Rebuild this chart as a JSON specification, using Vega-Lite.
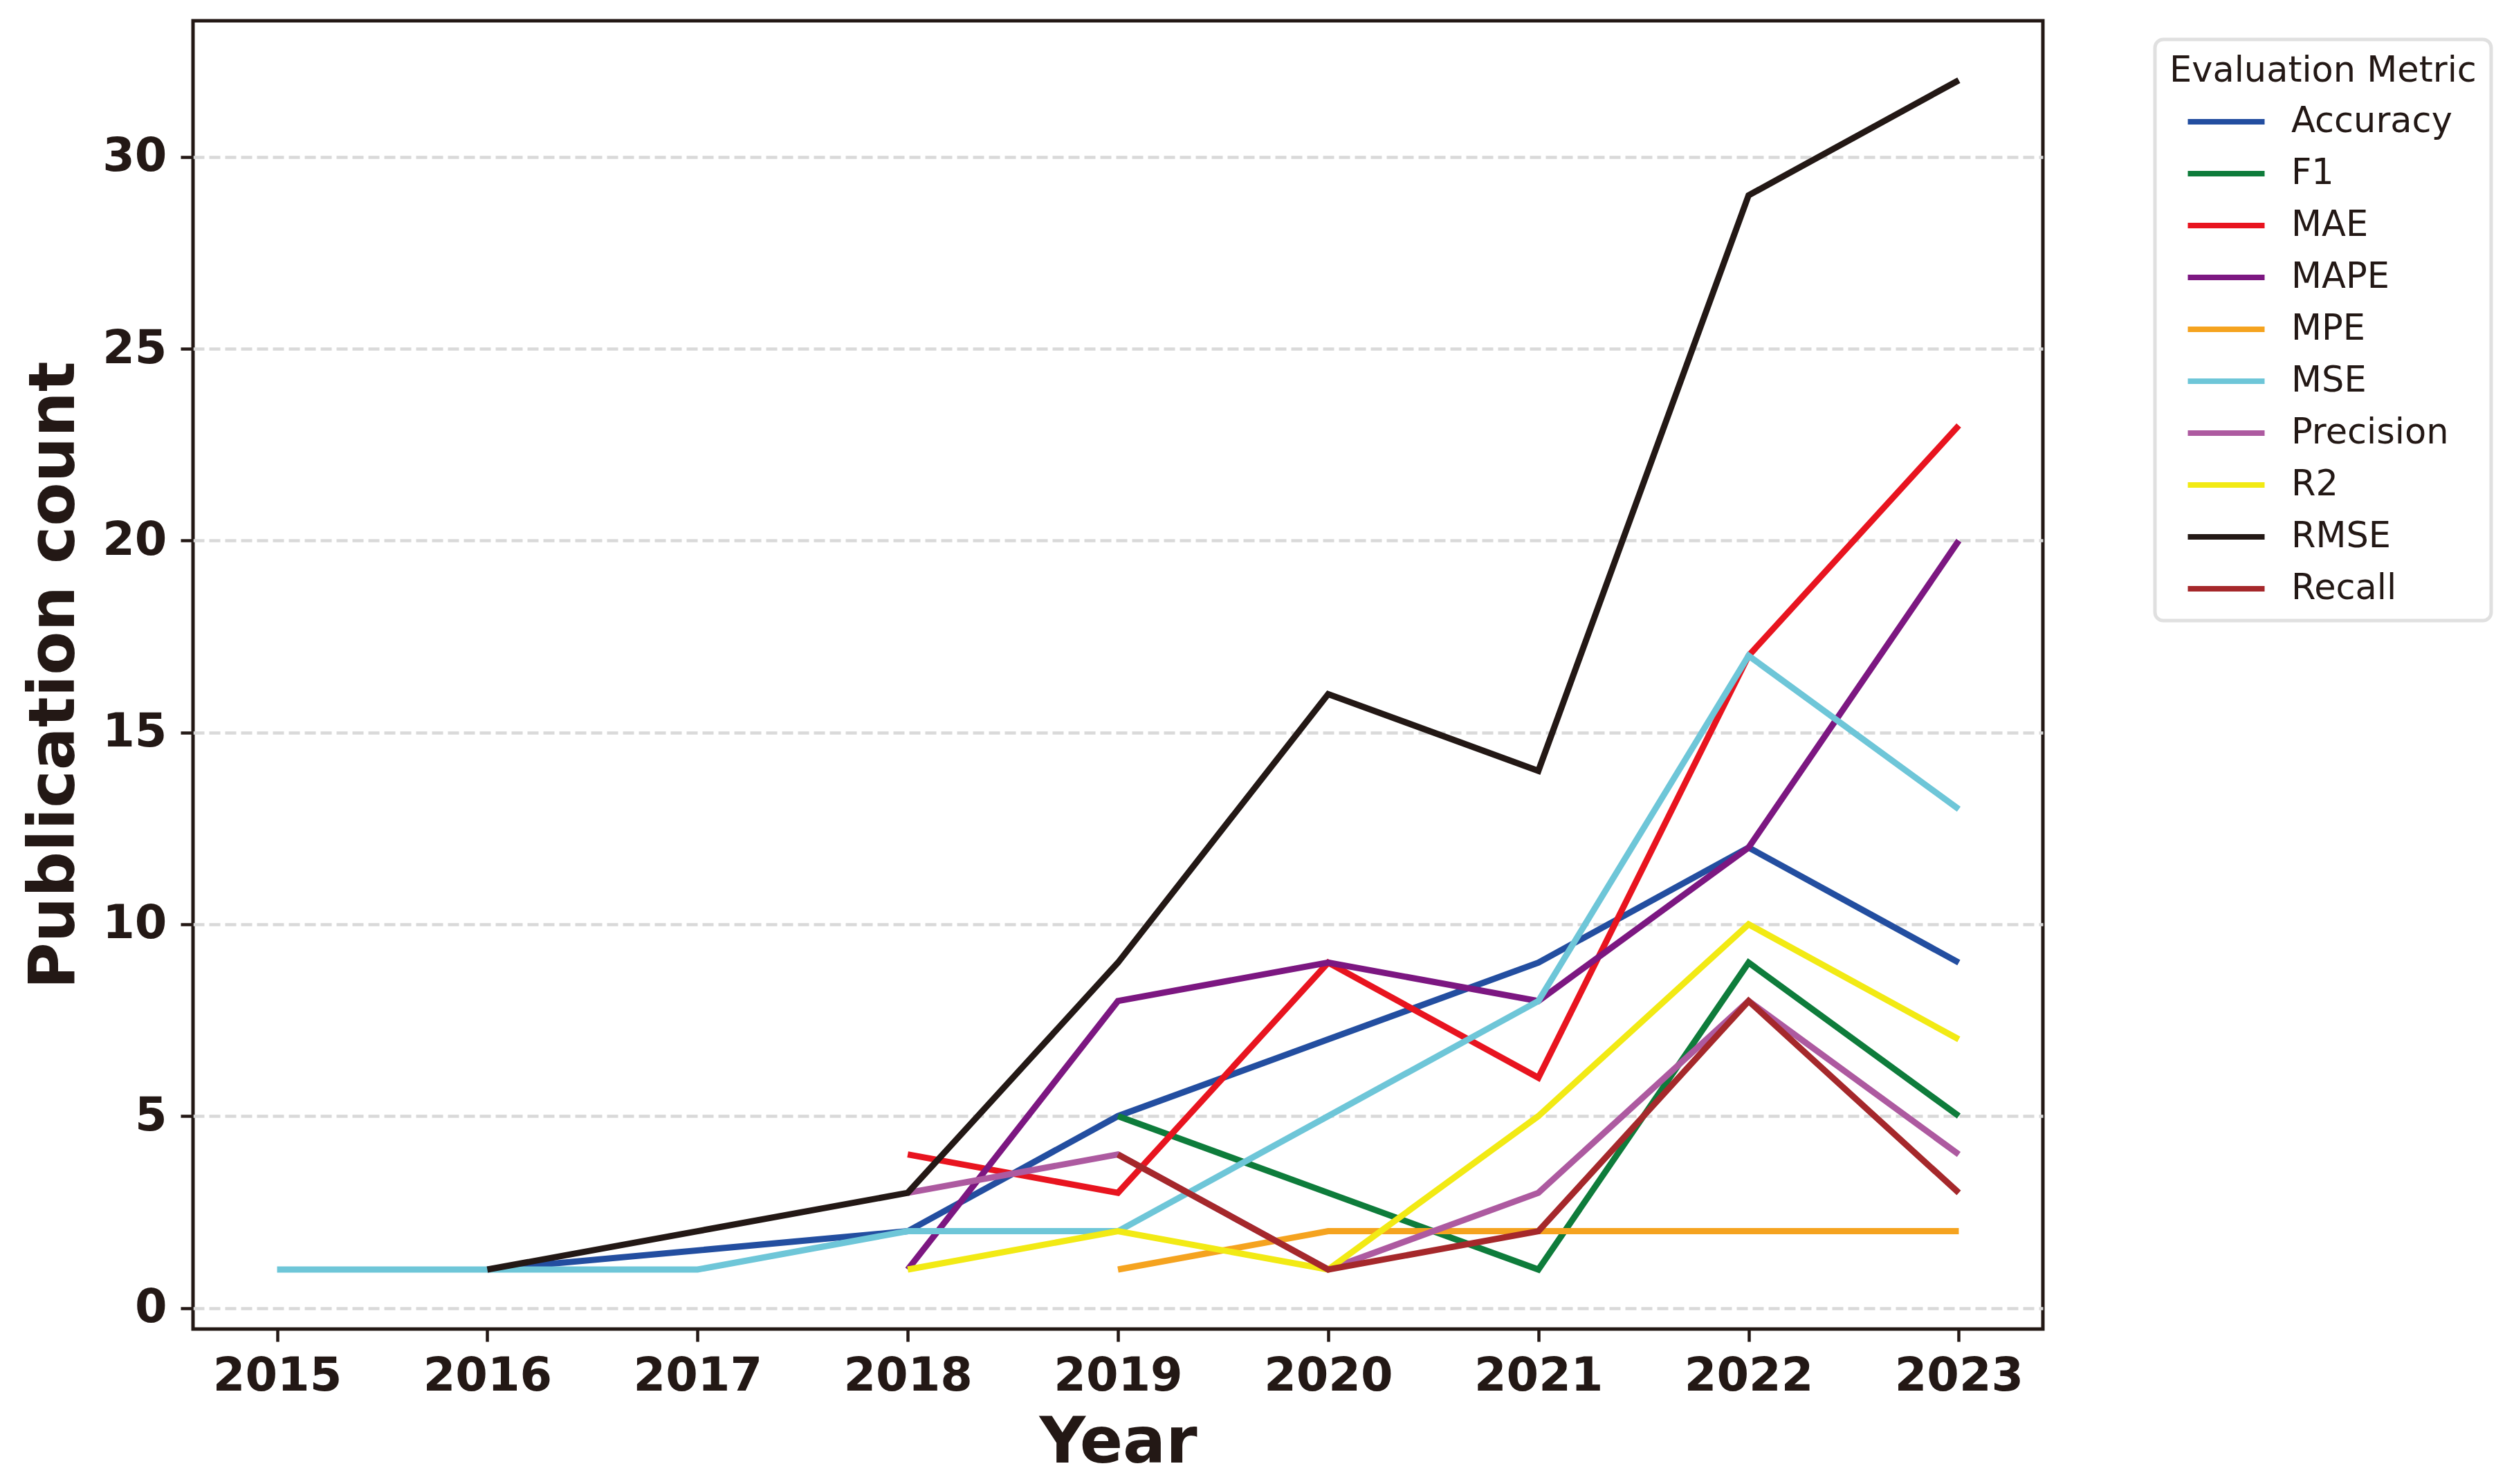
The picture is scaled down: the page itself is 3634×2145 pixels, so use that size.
{
  "$schema": "https://vega.github.io/schema/vega-lite/v6.json",
  "width": 2674,
  "height": 1891,
  "autosize": {"type": "none"},
  "padding": {"left": 279, "top": 30, "right": 681, "bottom": 224},
  "background": "white",
  "config": {
    "font": "DejaVu Sans",
    "view": {"stroke": "#231815", "strokeWidth": 5},
    "axis": {
      "domain": false,
      "labelColor": "#231815",
      "titleColor": "#231815",
      "tickColor": "#231815",
      "labelFont": "DejaVu Sans",
      "titleFont": "DejaVu Sans",
      "labelLimit": 0,
      "titleLimit": 0
    },
    "legend": {
      "strokeColor": "#e0e0e0",
      "strokeWidth": 5,
      "cornerRadius": 12,
      "fillColor": "white",
      "padding": 21,
      "labelLimit": 0,
      "titleLimit": 0
    }
  },
  "data": {
    "values": [
      {"metric": "Accuracy", "year": 2016, "count": 1},
      {"metric": "Accuracy", "year": 2018, "count": 2},
      {"metric": "Accuracy", "year": 2019, "count": 5},
      {"metric": "Accuracy", "year": 2020, "count": 7},
      {"metric": "Accuracy", "year": 2021, "count": 9},
      {"metric": "Accuracy", "year": 2022, "count": 12},
      {"metric": "Accuracy", "year": 2023, "count": 9},
      {"metric": "F1", "year": 2019, "count": 5},
      {"metric": "F1", "year": 2020, "count": 3},
      {"metric": "F1", "year": 2021, "count": 1},
      {"metric": "F1", "year": 2022, "count": 9},
      {"metric": "F1", "year": 2023, "count": 5},
      {"metric": "MAE", "year": 2018, "count": 4},
      {"metric": "MAE", "year": 2019, "count": 3},
      {"metric": "MAE", "year": 2020, "count": 9},
      {"metric": "MAE", "year": 2021, "count": 6},
      {"metric": "MAE", "year": 2022, "count": 17},
      {"metric": "MAE", "year": 2023, "count": 23},
      {"metric": "MAPE", "year": 2018, "count": 1},
      {"metric": "MAPE", "year": 2019, "count": 8},
      {"metric": "MAPE", "year": 2020, "count": 9},
      {"metric": "MAPE", "year": 2021, "count": 8},
      {"metric": "MAPE", "year": 2022, "count": 12},
      {"metric": "MAPE", "year": 2023, "count": 20},
      {"metric": "MPE", "year": 2019, "count": 1},
      {"metric": "MPE", "year": 2020, "count": 2},
      {"metric": "MPE", "year": 2021, "count": 2},
      {"metric": "MPE", "year": 2022, "count": 2},
      {"metric": "MPE", "year": 2023, "count": 2},
      {"metric": "MSE", "year": 2015, "count": 1},
      {"metric": "MSE", "year": 2016, "count": 1},
      {"metric": "MSE", "year": 2017, "count": 1},
      {"metric": "MSE", "year": 2018, "count": 2},
      {"metric": "MSE", "year": 2019, "count": 2},
      {"metric": "MSE", "year": 2020, "count": 5},
      {"metric": "MSE", "year": 2021, "count": 8},
      {"metric": "MSE", "year": 2022, "count": 17},
      {"metric": "MSE", "year": 2023, "count": 13},
      {"metric": "Precision", "year": 2018, "count": 3},
      {"metric": "Precision", "year": 2019, "count": 4},
      {"metric": "Precision", "year": 2020, "count": 1},
      {"metric": "Precision", "year": 2021, "count": 3},
      {"metric": "Precision", "year": 2022, "count": 8},
      {"metric": "Precision", "year": 2023, "count": 4},
      {"metric": "R2", "year": 2018, "count": 1},
      {"metric": "R2", "year": 2019, "count": 2},
      {"metric": "R2", "year": 2020, "count": 1},
      {"metric": "R2", "year": 2021, "count": 5},
      {"metric": "R2", "year": 2022, "count": 10},
      {"metric": "R2", "year": 2023, "count": 7},
      {"metric": "RMSE", "year": 2016, "count": 1},
      {"metric": "RMSE", "year": 2017, "count": 2},
      {"metric": "RMSE", "year": 2018, "count": 3},
      {"metric": "RMSE", "year": 2019, "count": 9},
      {"metric": "RMSE", "year": 2020, "count": 16},
      {"metric": "RMSE", "year": 2021, "count": 14},
      {"metric": "RMSE", "year": 2022, "count": 29},
      {"metric": "RMSE", "year": 2023, "count": 32},
      {"metric": "Recall", "year": 2019, "count": 4},
      {"metric": "Recall", "year": 2020, "count": 1},
      {"metric": "Recall", "year": 2021, "count": 2},
      {"metric": "Recall", "year": 2022, "count": 8},
      {"metric": "Recall", "year": 2023, "count": 3}
    ]
  },
  "mark": {"type": "line", "strokeWidth": 9, "strokeJoin": "miter", "strokeCap": "butt"},
  "encoding": {
    "x": {
      "field": "year",
      "type": "quantitative",
      "scale": {"domain": [2014.6, 2023.4], "nice": false, "zero": false},
      "axis": {
        "title": "Year",
        "values": [2015, 2016, 2017, 2018, 2019, 2020, 2021, 2022, 2023],
        "format": "d",
        "grid": false,
        "tickSize": 18,
        "tickWidth": 4.5,
        "labelFontSize": 67,
        "labelFontWeight": "bold",
        "labelPadding": 17,
        "titleFontSize": 92,
        "titleFontWeight": "bold",
        "titlePadding": 18
      }
    },
    "y": {
      "field": "count",
      "type": "quantitative",
      "scale": {"domain": [-0.55, 33.55], "nice": false, "zero": false},
      "axis": {
        "title": "Publication count",
        "values": [0, 5, 10, 15, 20, 25, 30],
        "grid": true,
        "gridColor": "#d9d9d9",
        "gridWidth": 4.5,
        "gridDash": [16, 7],
        "tickSize": 18,
        "tickWidth": 4.5,
        "labelFontSize": 67,
        "labelFontWeight": "bold",
        "labelPadding": 20,
        "titleFontSize": 92,
        "titleFontWeight": "bold",
        "titlePadding": 22
      }
    },
    "color": {
      "field": "metric",
      "type": "nominal",
      "scale": {
        "domain": ["Accuracy", "F1", "MAE", "MAPE", "MPE", "MSE", "Precision", "R2", "RMSE", "Recall"],
        "range": ["#234ea0", "#0e7c3b", "#e8141f", "#7c1781", "#f5a31f", "#6ec6d8", "#ad5aa0", "#f2ea14", "#231815", "#a5282b"]
      },
      "legend": {
        "title": "Evaluation Metric",
        "orient": "none",
        "legendX": 2836,
        "legendY": 27,
        "symbolType": "M-2,0H2",
        "symbolSize": 3080,
        "symbolStrokeWidth": 8,
        "symbolOffset": 50,
        "labelOffset": 62,
        "labelFontSize": 51,
        "labelColor": "#231815",
        "titleFontSize": 51,
        "titleFontWeight": "normal",
        "titleColor": "#231815",
        "titlePadding": 15,
        "rowPadding": 18
      }
    }
  }
}
